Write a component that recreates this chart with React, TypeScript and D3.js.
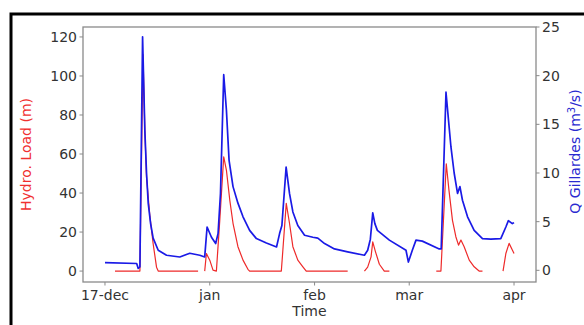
import React from "react";
import * as d3 from "d3";

// Q Gillardes (m3/s), right axis
const qDates = [
  "2017-12-01T00", "2017-12-10T09", "2017-12-10T20", "2017-12-11T08", "2017-12-12T03",
  "2017-12-12T19", "2017-12-13T07", "2017-12-13T19", "2017-12-14T12", "2017-12-15T06",
  "2017-12-16T18", "2017-12-19T05", "2017-12-23T03", "2017-12-26T02", "2017-12-29T01",
  "2017-12-30T12", "2017-12-31T05", "2018-01-01T12", "2018-01-02T18", "2018-01-03T11",
  "2018-01-04T04", "2018-01-05T03", "2018-01-05T22", "2018-01-06T17", "2018-01-07T21",
  "2018-01-09T08", "2018-01-10T20", "2018-01-12T19", "2018-01-14T19", "2018-01-17T18",
  "2018-01-20T18", "2018-01-21T16", "2018-01-22T08", "2018-01-23T14", "2018-01-24T14",
  "2018-01-25T14", "2018-01-27T01", "2018-01-29T01", "2018-01-31T12", "2018-02-01T23",
  "2018-02-03T23", "2018-02-06T21", "2018-02-10T19", "2018-02-15T18", "2018-02-16T17",
  "2018-02-17T12", "2018-02-18T05", "2018-02-18T20", "2018-02-19T14", "2018-02-23T03",
  "2018-02-28T01", "2018-02-28T18", "2018-03-01T22", "2018-03-03T00", "2018-03-04T21",
  "2018-03-09T21", "2018-03-10T11", "2018-03-11T21", "2018-03-12T15", "2018-03-13T08",
  "2018-03-14T07", "2018-03-15T07", "2018-03-16T00", "2018-03-16T18", "2018-03-18T06",
  "2018-03-20T05", "2018-03-22T16", "2018-03-25T03", "2018-03-28T02", "2018-03-29T14",
  "2018-03-30T08", "2018-03-31T12", "2018-04-01T00",
];
const qValues = [
  0.8, 0.7, 0.2, 0.35, 24.0,
  14.4, 10.0, 6.9, 4.8, 3.3,
  2.06, 1.55, 1.37, 1.75, 1.55,
  1.37, 4.45, 3.4, 2.75, 3.8,
  7.9, 20.1, 16.5, 11.3, 8.6,
  6.9, 5.5, 4.1, 3.26, 2.8,
  2.4, 3.8, 4.6, 10.6, 7.9,
  6.0, 4.6, 3.6, 3.4, 3.3,
  2.75, 2.2, 1.9, 1.55, 2.06,
  3.2, 5.9, 4.8, 4.1, 3.1,
  2.06, 0.85, 2.06, 3.1, 3.0,
  2.2, 2.2, 18.3, 15.4, 12.7,
  10.0, 7.9, 8.6, 7.2, 5.5,
  4.1, 3.26, 3.2, 3.26, 4.45,
  5.1, 4.8, 4.9,
];

// Hydro. Load (m), left axis; null = gap in the record
const hDates = [
  "2017-12-03T23", "2017-12-11T08", "2017-12-12T06", "2017-12-12T19", "2017-12-13T07",
  "2017-12-14T07", "2017-12-15T06", "2017-12-16T06", "2017-12-16T18", "2017-12-28T13",
  "2017-12-29T00",
  "2017-12-30T12", "2017-12-31T00", "2018-01-01T00", "2018-01-01T23", "2018-01-02T23",
  "2018-01-03T23", "2018-01-05T03", "2018-01-05T22", "2018-01-06T22", "2018-01-07T21",
  "2018-01-09T08", "2018-01-10T20", "2018-01-12T07", "2018-01-12T19", "2018-01-22T04",
  "2018-01-22T15", "2018-01-23T15", "2018-01-24T14", "2018-01-25T14", "2018-01-27T01",
  "2018-01-28T13", "2018-01-29T13", "2018-02-10T19",
  "2018-02-12T00",
  "2018-02-15T18", "2018-02-16T17", "2018-02-17T17", "2018-02-18T05", "2018-02-19T00",
  "2018-02-20T04", "2018-02-21T15", "2018-02-23T03",
  "2018-02-25T00",
  "2018-03-09T00", "2018-03-10T09", "2018-03-11T23", "2018-03-12T18", "2018-03-13T19",
  "2018-03-14T19", "2018-03-15T14", "2018-03-16T07", "2018-03-17T06", "2018-03-18T18",
  "2018-03-20T05", "2018-03-21T16", "2018-03-22T16",
  "2018-03-25T00",
  "2018-03-28T18", "2018-03-29T14", "2018-03-30T13", "2018-03-31T12", "2018-04-01T00",
];
const hValues: (number | null)[] = [
  0, 0, 111, 72, 48,
  28, 14, 2, 0, 0,
  null,
  0, 9, 5.6, 0.5, 0,
  26, 58.6, 51.8, 36.4, 24.5,
  12.5, 5.6, 0.9, 0, 0,
  10.8, 34.7, 24.5, 12.5, 5.6,
  2.2, 0, 0,
  null,
  0, 2, 7.3, 15, 10,
  3.5, 0, 0,
  null,
  0, 0, 55, 41.5, 26,
  17.6, 13.3, 15.9, 12.5, 5.6,
  2.2, 0, 0,
  null,
  0, 9, 14.2, 10.8, 9,
];

const leftTicks = [0, 20, 40, 60, 80, 100, 120];
const rightTicks = [0, 5, 10, 15, 20, 25];
const xTickDates = ["2017-12-01", "2018-01-01", "2018-02-01", "2018-03-01", "2018-04-01"];
const xTickLabels = ["17-dec", "jan", "feb", "mar", "apr"];

const parse = (s: string) => new Date(s.length === 10 ? s + "T00:00:00Z" : s + ":00:00Z");

export default function App() {
  const W = 584, H = 325;
  const L = 83, R = 536, T = 27, B = 282;
  const x = d3.scaleUtc()
    .domain([parse("2017-11-24T12"), parse("2018-04-07T12")])
    .range([L, R]);
  const yL = d3.scaleLinear().domain([-5.6, 125.1]).range([B, T]);
  const yR = d3.scaleLinear().domain([-1.2, 25]).range([B, T]);

  const qData = qDates.map((d, i) => ({ t: parse(d), v: qValues[i] }));
  const hData = hDates.map((d, i) => ({ t: parse(d), v: hValues[i] }));

  const qLine = d3.line<{ t: Date; v: number }>().x(d => x(d.t)).y(d => yR(d.v));
  const hLine = d3.line<{ t: Date; v: number | null }>()
    .defined(d => d.v !== null)
    .x(d => x(d.t)).y(d => yL(d.v as number));

  const font = "DejaVu Sans, sans-serif";
  const spine = "#8a8a8a";
  const txt = "#333";
  const fs = 14;

  return (
    <div style={{ position: "absolute", left: 0, top: 0 }}>
      <svg width={W} height={H} style={{ display: "block" }}>
        <rect x={0} y={0} width={W} height={H} fill="white" />
        <rect x={11} y={14} width={700} height={400} fill="none" stroke="black" strokeWidth={3} />
        <path d={hLine(hData) || ""} fill="none" stroke="#ee2a2a" strokeWidth={1.2} strokeLinejoin="round" />
        <path d={qLine(qData) || ""} fill="none" stroke="#1a1ae6" strokeWidth={1.7} strokeLinejoin="round" />
        <rect x={L} y={T} width={R - L} height={B - T} fill="none" stroke={spine} strokeWidth={1.3} />
        {leftTicks.map(t => (
          <g key={"l" + t}>
            <line x1={L - 3.5} x2={L} y1={yL(t)} y2={yL(t)} stroke={spine} />
            <text x={L - 6} y={yL(t)} dy="0.36em" textAnchor="end" fontFamily={font} fontSize={fs} fill={txt}>{t}</text>
          </g>
        ))}
        {rightTicks.map(t => (
          <g key={"r" + t}>
            <line x1={R} x2={R + 3.5} y1={yR(t)} y2={yR(t)} stroke={spine} />
            <text x={R + 6} y={yR(t)} dy="0.36em" textAnchor="start" fontFamily={font} fontSize={fs} fill={txt}>{t}</text>
          </g>
        ))}
        {xTickDates.map((d, i) => (
          <g key={"x" + d}>
            <line x1={x(parse(d))} x2={x(parse(d))} y1={B} y2={B + 3.5} stroke={spine} />
            <text x={x(parse(d))} y={B + 18} textAnchor="middle" fontFamily={font} fontSize={fs} fill={txt}>{xTickLabels[i]}</text>
          </g>
        ))}
        <text x={(L + R) / 2} y={316} textAnchor="middle" fontFamily={font} fontSize={fs} fill={txt}>Time</text>
        <text transform={`translate(31,${(T + B) / 2}) rotate(-90)`} textAnchor="middle" fontFamily={font} fontSize={fs} fill="#f03030">Hydro. Load (m)</text>
        <text transform={`translate(580,${(T + B) / 2 - 3}) rotate(-90)`} textAnchor="middle" fontFamily={font} fontSize={fs} fill="#2a2ad0">
          Q Gillardes (m<tspan dy="-5" fontSize={10}>3</tspan><tspan dy="5">/s)</tspan>
        </text>
      </svg>
    </div>
  );
}
